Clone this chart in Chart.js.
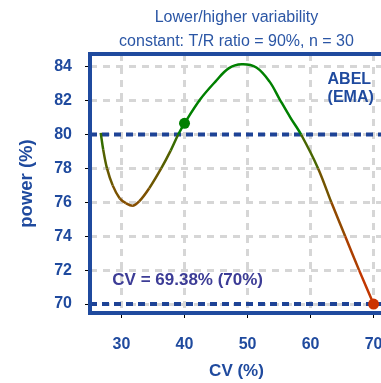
<!DOCTYPE html>
<html>
<head>
<meta charset="utf-8">
<script src="https://cdn.jsdelivr.net/npm/chart.js@4.4.0/dist/chart.umd.min.js"></script>
<style>
  html, body { margin: 0; padding: 0; overflow: hidden; background: #fff; }
  #wrap { width: 400px; height: 383px; }
</style>
</head>
<body>
<div id="wrap"><canvas id="powerChart" width="400" height="383"></canvas></div>
<script>
// power curve
const cvValues = [26.7, 27.1, 27.7, 28.6, 29.7, 30.7, 31.8, 32.8, 34.4, 36.3, 37.8, 39.0, 40.0,
  42.5, 44.9, 47.0, 49.1, 51.4, 53.5, 55.1, 56.8, 58.5, 61.2, 63.3, 65.5, 67.7, 70.0];
const powerValues = [80.1, 79.1, 78.0, 77.0, 76.24, 75.95, 75.8, 76.05, 76.83, 78.0, 79.05, 80.0, 80.66,
  82.08, 83.12, 83.9, 84.14, 83.95, 83.12, 82.08, 81.0, 80.0, 78.0, 76.0, 74.0, 72.0, 70.0];

// marked points and reference levels
const markerCV = [40, 70];
const markerPower = [80.66, 70];
const markerColors = ['#008000', '#cc3300'];
const targetLevels = [80, 70];

const xRange = [25, 71.5];
const yRange = [69.47, 84.75];

const titleLines = ['Lower/higher variability', 'constant: T/R ratio = 90%, n = 30'];
const cvNote = 'CV = 69.38% (70%)';
const methodNote = ['ABEL', '(EMA)'];

const blue = '#1f4a9e';
const fontFamily = "'Liberation Sans', Arial, sans-serif";

function powerColor(p) {
  let t = (80.3 - p) / 10.3;
  t = Math.max(0, Math.min(1, t));
  t = Math.pow(t, 0.5);
  const r = Math.round(204 * t);
  const g = Math.round(128 + (51 - 128) * t);
  return `rgb(${r},${g},0)`;
}

const curve = cvValues.map((x, i) => ({ x: x, y: powerValues[i] }));
const markers = markerCV.map((x, i) => ({ x: x, y: markerPower[i] }));

const levelSets = targetLevels.map(v => ({
  data: [{ x: xRange[0], y: v }, { x: xRange[1], y: v }],
  borderColor: '#1e4396',
  borderWidth: 4,
  borderDash: [7, 5],
  pointRadius: 0,
  showLine: true
}));

const framePlugin = {
  id: 'frame',
  afterDraw(chart) {
    const { ctx, chartArea, scales } = chart;
    ctx.save();
    ctx.strokeStyle = blue;
    ctx.lineWidth = 4;
    ctx.strokeRect(chartArea.left, chartArea.top, chartArea.right - chartArea.left, chartArea.bottom - chartArea.top);

    ctx.font = 'bold 17px ' + fontFamily;
    ctx.fillStyle = '#3c3c96';
    ctx.textAlign = 'center';
    ctx.textBaseline = 'middle';
    ctx.fillText(cvNote, scales.x.getPixelForValue(40.5), scales.y.getPixelForValue(71.37));

    ctx.font = 'bold 16px ' + fontFamily;
    ctx.fillStyle = blue;
    ctx.textAlign = 'left';
    const nx = scales.x.getPixelForValue(62.7);
    ctx.fillText(methodNote[0], nx, scales.y.getPixelForValue(83.22));
    ctx.fillText(methodNote[1], nx, scales.y.getPixelForValue(82.19));
    ctx.restore();
  }
};

const ctx = document.getElementById('powerChart').getContext('2d');
new Chart(ctx, {
  type: 'scatter',
  data: {
    datasets: [
      {
        data: markers,
        pointRadius: 5.5,
        pointBackgroundColor: markerColors,
        pointBorderWidth: 0,
        showLine: false
      },
      {
        data: curve,
        showLine: true,
        borderWidth: 2.5,
        tension: 0.35,
        pointRadius: 0,
        borderColor: '#008000',
        segment: {
          borderColor: c => powerColor((c.p0.parsed.y + c.p1.parsed.y) / 2)
        }
      },
      ...levelSets
    ]
  },
  options: {
    responsive: false,
    animation: false,
    layout: { padding: { top: 0, left: 0, right: 14, bottom: 0 } },
    plugins: {
      legend: { display: false },
      tooltip: { enabled: false },
      title: {
        display: true,
        text: titleLines,
        fullSize: false,
        color: '#2b56a5',
        font: { family: fontFamily, size: 16, weight: 'normal', lineHeight: 1.5 },
        padding: { top: 6, bottom: 0 }
      }
    },
    scales: {
      x: {
        type: 'linear',
        min: xRange[0],
        max: xRange[1],
        afterFit: s => { s.height = 70; },
        ticks: {
          stepSize: 10,
          includeBounds: false,
          color: blue,
          padding: 17,
          font: { family: fontFamily, size: 16, weight: 'bold' }
        },
        grid: {
          color: '#d6d6d6',
          lineWidth: 3,
          tickLength: 5,
          tickColor: '#000',
          tickWidth: 1,
          tickBorderDash: []
        },
        border: { display: false, dash: [7, 6] },
        title: {
          display: true,
          text: 'CV (%)',
          color: blue,
          font: { family: fontFamily, size: 17, weight: 'bold' },
          padding: { top: 0, bottom: 1 }
        }
      },
      y: {
        min: yRange[0],
        max: yRange[1],
        afterFit: s => { s.width = 90; },
        ticks: {
          stepSize: 2,
          includeBounds: false,
          color: blue,
          padding: 13,
          font: { family: fontFamily, size: 16, weight: 'bold' }
        },
        grid: {
          color: '#d6d6d6',
          lineWidth: 3,
          tickLength: 5,
          tickColor: '#000',
          tickWidth: 1,
          tickBorderDash: []
        },
        border: { display: false, dash: [7, 6] },
        title: {
          display: true,
          text: 'power (%)',
          color: blue,
          font: { family: fontFamily, size: 18.5, weight: 'bold' },
          padding: { top: 16, bottom: 0 }
        }
      }
    }
  },
  plugins: [framePlugin]
});
</script>
</body>
</html>
